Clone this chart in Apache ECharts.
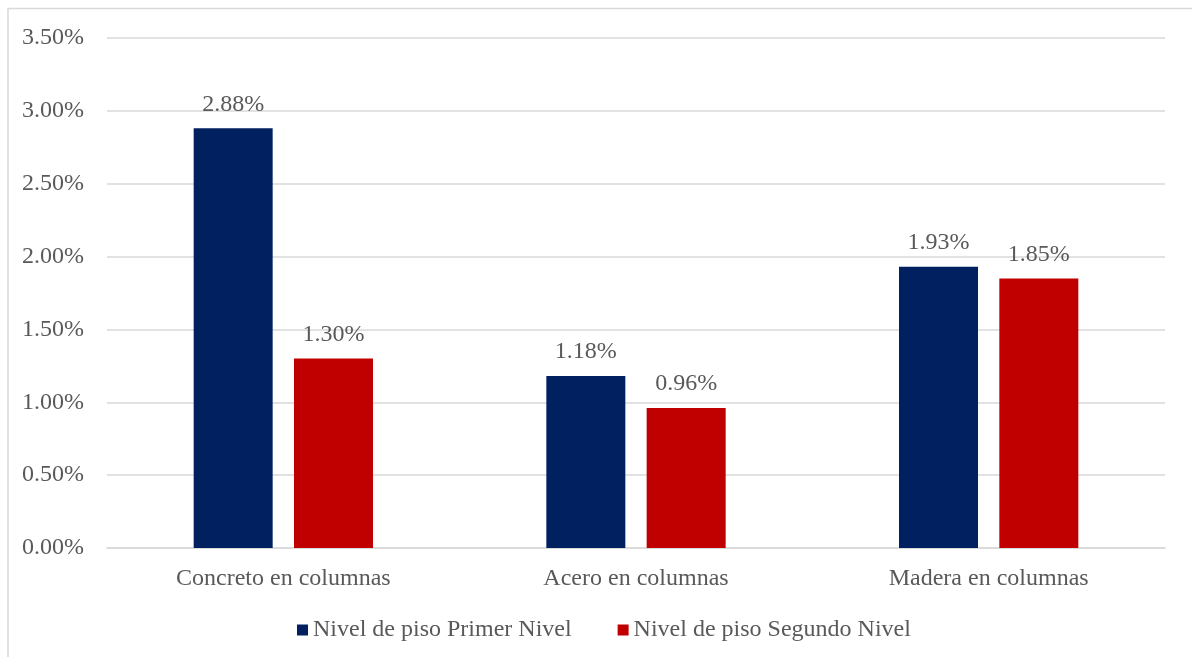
<!DOCTYPE html>
<html>
<head>
<meta charset="utf-8">
<script src="https://cdn.jsdelivr.net/npm/echarts@6/dist/echarts.min.js"></script>
<style>html,body{margin:0;padding:0;background:#fff}#c{width:1192px;height:657px}</style>
</head>
<body>
<div id="c"></div>
<script>
const categories = ['Concreto en columnas', 'Acero en columnas', 'Madera en columnas'];
const seriesNames = ['Nivel de piso Primer Nivel', 'Nivel de piso Segundo Nivel'];
const primerNivel = [2.88, 1.18, 1.93];
const segundoNivel = [1.30, 0.96, 1.85];
const yTicks = [0, 0.5, 1, 1.5, 2, 2.5, 3, 3.5];

const font = '"Liberation Serif", "Times New Roman", serif';
const textColor = '#595959';
const fs = 24;
const chart = echarts.init(document.getElementById('c'));
chart.setOption({
  animation: false,
  textStyle: { fontFamily: font },
  graphic: [{
    type: 'polyline', silent: true,
    shape: { points: [[8, 657], [8, 8.5], [1192, 8.5]] },
    style: { stroke: '#d9d9d9', lineWidth: 1.5, fill: null }
  }],
  grid: { left: 107, right: 27, top: 38, bottom: 109 },
  legend: {
    top: 613, left: 292,
    itemWidth: 11, itemHeight: 11, itemGap: 46,
    icon: 'rect',
    textStyle: { fontFamily: font, fontSize: fs, color: textColor },
    data: seriesNames
  },
  xAxis: {
    type: 'category', data: categories,
    axisLine: { lineStyle: { color: '#d9d9d9', width: 1.5 } },
    axisTick: { show: false },
    axisLabel: { fontFamily: font, fontSize: fs, color: textColor, margin: 19 }
  },
  yAxis: {
    type: 'value', min: yTicks[0], max: yTicks[yTicks.length - 1], interval: 0.5,
    axisLine: { show: false }, axisTick: { show: false },
    splitLine: { lineStyle: { color: '#d9d9d9', width: 1.5 } },
    axisLabel: { fontFamily: font, fontSize: fs, color: textColor, margin: 23,
      formatter: v => v.toFixed(2) + '%' }
  },
  series: [
    { name: seriesNames[0], type: 'bar', data: primerNivel, barWidth: '22.4%', barGap: '27%',
      itemStyle: { color: '#002060' },
      label: { show: true, position: 'top', distance: 12, fontFamily: font, fontSize: fs, color: textColor,
        formatter: p => p.value.toFixed(2) + '%' } },
    { name: seriesNames[1], type: 'bar', data: segundoNivel, barWidth: '22.4%',
      itemStyle: { color: '#C00000' },
      label: { show: true, position: 'top', distance: 12, fontFamily: font, fontSize: fs, color: textColor,
        formatter: p => p.value.toFixed(2) + '%' } }
  ]
});
</script>
</body>
</html>
